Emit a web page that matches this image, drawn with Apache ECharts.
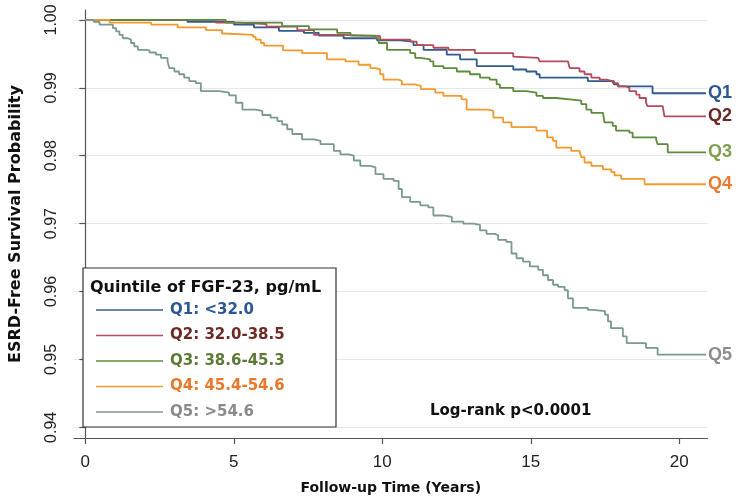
<!DOCTYPE html>
<html><head><meta charset="utf-8">
<script src="https://cdn.jsdelivr.net/npm/echarts@6/dist/echarts.min.js"></script>
<style>html,body{margin:0;padding:0;background:#fff}#c{width:737px;height:500px}</style>
</head><body><div id="c"></div>
<script>
const xTicks = [0, 5, 10, 15, 20];
const yTicks = [0.94, 0.95, 0.96, 0.97, 0.98, 0.99, 1.00];
const shortNames = ['Q1', 'Q2', 'Q3', 'Q4', 'Q5'];
const legendLabels = ['Q1: <32.0', 'Q2: 32.0-38.5', 'Q3: 38.6-45.3', 'Q4: 45.4-54.6', 'Q5: >54.6'];
const lineColors = ['#2f5b8f', '#b44a5a', '#5e8a3c', '#f39a2e', '#7b9a8b'];
const labelColors = ['#2b5797', '#6b2522', '#7ea04e', '#ea7a2c', '#8d8d8d'];
const legendColors = ['#2b5797', '#6e2a26', '#5b7a36', '#e8782a', '#8a8a8a'];

const q1 = [[0,1],[3.44,0.9997],[5.01,0.9993],[5.68,0.9989],[6.52,0.9984],[7.36,0.9981],[7.86,0.9977],[8.7,0.9973],[9.82,0.997],[10.6,0.9968],[11.05,0.9963],[11.39,0.9956],[12.17,0.9949],[12.62,0.9942],[13.18,0.9932],[14.41,0.9927],[14.85,0.9924],[15.19,0.992],[15.3,0.9915],[16.92,0.991],[17.8,0.9905],[17.95,0.9902],[19.1,0.9892],[20.9,0.9892]];
const q2 = [[0,1],[4.4,0.9996],[5.18,0.9994],[6.1,0.999],[7.14,0.9985],[7.7,0.9978],[8.7,0.9976],[9.93,0.9971],[10.94,0.9968],[11.16,0.9963],[11.72,0.9959],[12.23,0.9956],[13.12,0.9951],[14.41,0.9946],[14.46,0.9944],[15.25,0.9942],[15.3,0.9939],[16.25,0.9937],[16.31,0.9929],[16.64,0.9924],[16.81,0.992],[17.04,0.9915],[17.32,0.9912],[17.54,0.991],[17.76,0.9907],[17.93,0.9902],[18.21,0.99],[18.32,0.9895],[18.55,0.989],[18.66,0.9885],[18.88,0.9878],[18.93,0.9873],[19.44,0.9871],[19.5,0.9858],[20.9,0.9858]];
const q3 = [[0,1],[4.73,0.9996],[6.63,0.9991],[7.53,0.9986],[8.48,0.9981],[8.93,0.9977],[9.77,0.9973],[9.88,0.9966],[10.16,0.9956],[10.94,0.9951],[11.11,0.9944],[11.28,0.9942],[11.61,0.9939],[11.72,0.9932],[12.06,0.9929],[12.51,0.9924],[12.95,0.992],[13.29,0.9915],[13.62,0.9912],[13.85,0.9905],[13.96,0.99],[14.41,0.9895],[14.85,0.9893],[15.19,0.9888],[15.41,0.9885],[15.86,0.9883],[16.31,0.9881],[16.7,0.9876],[16.87,0.9868],[17.04,0.9863],[17.43,0.9861],[17.48,0.9849],[17.76,0.9844],[17.87,0.9837],[18.32,0.9834],[18.43,0.9827],[19.22,0.9824],[19.27,0.9817],[19.61,0.9805],[20.9,0.9805]];
const q4 = [[0,1],[0.82,0.9996],[2.22,0.9993],[3.11,0.9989],[4.06,0.9985],[4.6,0.998],[4.68,0.9978],[5.65,0.9975],[5.74,0.9971],[5.91,0.9966],[6.02,0.9962],[6.66,0.9955],[7.3,0.9951],[8.14,0.9942],[8.76,0.9939],[9.2,0.9934],[9.6,0.9929],[9.77,0.9927],[9.93,0.992],[10.04,0.9912],[10.55,0.991],[10.66,0.9905],[11.1,0.9903],[11.3,0.9898],[11.78,0.9893],[12.06,0.9888],[12.67,0.9883],[12.84,0.9868],[13.57,0.9866],[13.74,0.9856],[14.07,0.9849],[14.35,0.9842],[15.19,0.9837],[15.55,0.9827],[15.75,0.9822],[15.86,0.9812],[16.36,0.9807],[16.64,0.9805],[16.7,0.9798],[16.81,0.979],[17.04,0.9785],[17.43,0.978],[17.71,0.9776],[17.82,0.9771],[18.04,0.9766],[18.83,0.9758],[20.9,0.9758]];
const q5 = [[0,1],[0.29,0.9997],[0.48,0.9993],[0.93,0.9988],[1.04,0.9983],[1.15,0.9978],[1.26,0.9973],[1.43,0.9971],[1.54,0.9966],[1.65,0.9961],[1.77,0.9956],[2.05,0.9955],[2.16,0.9952],[2.38,0.9949],[2.55,0.9944],[2.77,0.9939],[2.83,0.9929],[3.0,0.9924],[3.16,0.992],[3.33,0.9915],[3.5,0.991],[3.72,0.9907],[3.89,0.9895],[4.51,0.9893],[4.84,0.9889],[5.07,0.9878],[5.29,0.9868],[5.74,0.9866],[5.96,0.986],[6.24,0.9856],[6.47,0.9851],[6.63,0.9846],[6.8,0.9839],[6.97,0.9832],[7.3,0.9824],[7.7,0.9822],[7.92,0.9817],[8.37,0.9807],[8.59,0.9802],[8.87,0.98],[9.04,0.9793],[9.26,0.9785],[9.6,0.9783],[9.77,0.9773],[10.04,0.9766],[10.38,0.9763],[10.55,0.9751],[10.66,0.9739],[10.94,0.9732],[11.28,0.9727],[11.55,0.9724],[11.72,0.9712],[12.06,0.971],[12.34,0.9703],[12.73,0.97],[13.06,0.9698],[13.29,0.969],[13.51,0.9685],[13.79,0.9683],[13.9,0.9676],[14.18,0.9673],[14.35,0.9656],[14.52,0.9649],[14.74,0.9644],[14.97,0.9637],[15.25,0.9632],[15.41,0.9624],[15.58,0.9617],[15.75,0.961],[15.92,0.9607],[16.14,0.9602],[16.25,0.959],[16.42,0.9576],[16.92,0.9573],[17.1,0.9571],[17.5,0.9566],[17.6,0.9556],[17.7,0.9546],[18.1,0.9534],[18.23,0.9524],[18.88,0.9517],[19.27,0.9507],[20.9,0.9507]];
const curves = [q1, q2, q3, q4, q5];

const BOLD = '"DejaVu Sans", sans-serif';
const REG = '"Liberation Sans", Arial, sans-serif';

const chart = echarts.init(document.getElementById('c'), null, {renderer: 'canvas'});
const series = curves.map((d, i) => ({
  name: legendLabels[i],
  type: 'line',
  step: 'end',
  data: d,
  symbol: 'none',
  lineStyle: {color: lineColors[i], width: 1.8},
  itemStyle: {color: lineColors[i]},
  endLabel: {
    show: true, formatter: shortNames[i], distance: 2,
    color: labelColors[i], fontFamily: REG, fontWeight: 'bold', fontSize: 18
  },
  z: 3
}));

chart.setOption({
  animation: false,
  backgroundColor: '#fff',
  grid: {left: 72.7, right: 29.5, top: 10, bottom: 59.3, containLabel: false},
  xAxis: {
    type: 'value', min: -0.38, max: 20.95,
    name: 'Follow-up Time (Years)', nameLocation: 'middle', nameGap: 43,
    nameTextStyle: {fontFamily: BOLD, fontWeight: 'bold', fontSize: 14, color: '#111'},
    axisLine: {show: true, lineStyle: {color: '#555', width: 1.2}},
    axisTick: {show: true, length: 6, customValues: xTicks, lineStyle: {color: '#555', width: 1.2}},
    axisLabel: {customValues: xTicks, margin: 16, fontFamily: REG, fontSize: 17, color: '#222'},
    splitLine: {show: false}
  },
  yAxis: {
    type: 'value', min: 0.93843, max: 1.00146,
    name: 'ESRD-Free Survival Probability', nameLocation: 'middle', nameGap: 50,
    nameTextStyle: {fontFamily: BOLD, fontWeight: 'bold', fontSize: 16, color: '#111'},
    axisLine: {show: true, lineStyle: {color: '#555', width: 1.2}},
    axisTick: {show: true, length: 6, customValues: yTicks, lineStyle: {color: '#555', width: 1.2}},
    axisLabel: {customValues: yTicks, rotate: 90, margin: 14, fontFamily: REG, fontSize: 16, color: '#222',
      formatter: v => v.toFixed(2)},
    splitLine: {show: true, lineStyle: {color: '#e2e8ec', width: 1.2}}
  },
  legend: {
    orient: 'vertical', left: 91, top: 296, z: 20,
    icon: 'rect',
    itemWidth: 67, itemHeight: 1.6, itemGap: 7.5,
    selectedMode: false,
    data: legendLabels.map((n, i) => ({name: n, textStyle: {color: legendColors[i]}})),
    textStyle: {fontFamily: BOLD, fontWeight: 'bold', fontSize: 15, lineHeight: 18, padding: [0, 0, 0, 2]}
  },
  graphic: [
    {type: 'rect', z: 15, shape: {x: 83, y: 268, width: 253, height: 159},
      style: {fill: '#fff', stroke: '#333', lineWidth: 1.2}},
    {type: 'text', z: 21, x: 90, y: 288,
      style: {text: 'Quintile of FGF-23, pg/mL', fontFamily: BOLD, fontWeight: 'bold', fontSize: 16, fill: '#111', verticalAlign: 'middle'}},
    {type: 'text', z: 21, x: 430, y: 411,
      style: {text: 'Log-rank p<0.0001', fontFamily: BOLD, fontWeight: 'bold', fontSize: 15, fill: '#111', verticalAlign: 'middle'}}
  ],
  series: series
});
</script>
</body></html>
